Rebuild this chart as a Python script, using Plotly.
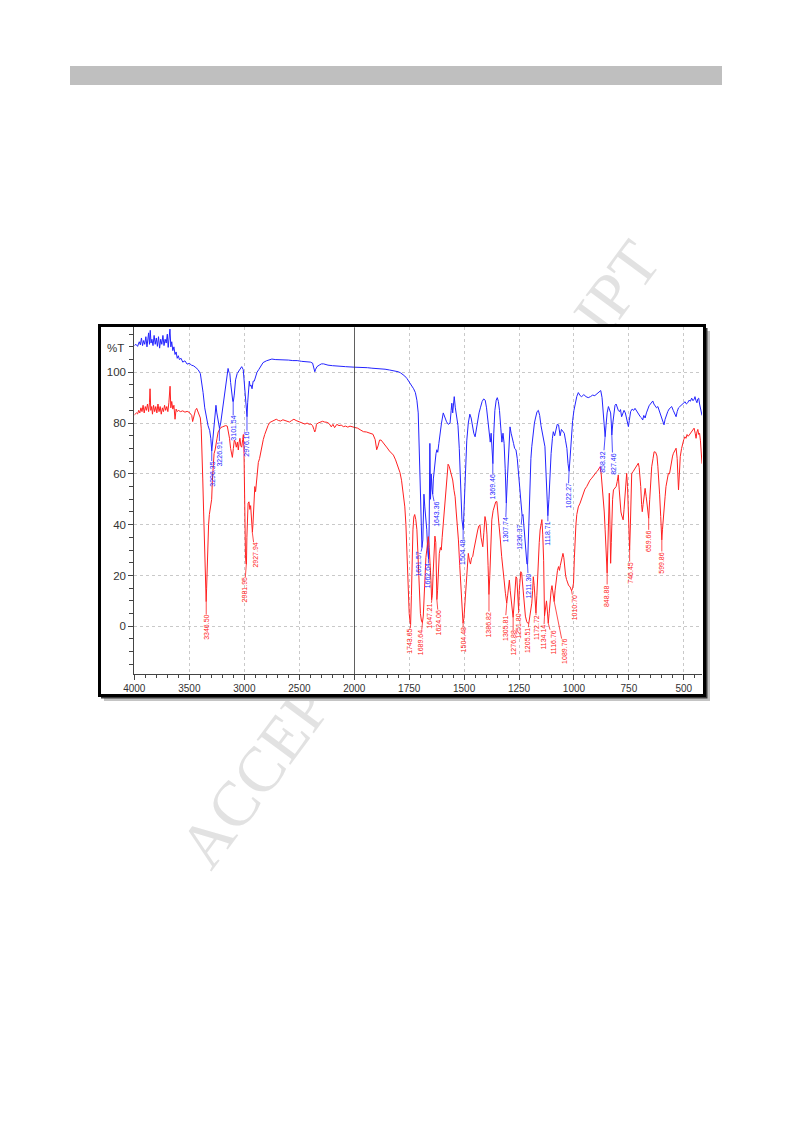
import plotly.graph_objects as go

W, H = 793, 1123

# ---------------- data ----------------
blue_wn = [4000, 3985, 3970, 3955, 3945, 3935, 3925, 3915, 3905, 3895, 3885, 3870, 3862, 3855, 3848, 3840,
           3830, 3820, 3810, 3800, 3790, 3780, 3770, 3760, 3750, 3740, 3730, 3720, 3710, 3700, 3692, 3685,
           3676, 3668, 3660, 3650, 3640, 3630, 3620, 3610, 3600, 3590, 3575, 3560, 3540, 3520, 3500, 3480,
           3460, 3440, 3420, 3400, 3390, 3375, 3360, 3345, 3330, 3315, 3305, 3296, 3285, 3275, 3265, 3258,
           3250, 3240, 3230, 3226, 3215, 3200, 3185, 3170, 3155, 3148, 3140, 3132, 3125, 3115, 3105, 3100,
           3092, 3080, 3065, 3050, 3035, 3024, 3010, 3000, 2990, 2982, 2976, 2970, 2962, 2955, 2948, 2940,
           2930, 2920, 2910, 2900, 2885, 2870, 2850, 2830, 2800, 2780, 2750, 2720, 2680, 2640, 2600, 2560,
           2520, 2480, 2440, 2400, 2380, 2368, 2360, 2352, 2340, 2320, 2300, 2280, 2260, 2240, 2200, 2160,
           2120, 2080, 2040, 2000,
           1980, 1960, 1940, 1920, 1900, 1880, 1860, 1840, 1820, 1800, 1790, 1780, 1770, 1760, 1750, 1740,
           1730, 1722, 1715, 1709, 1704, 1700, 1696, 1692, 1688, 1685, 1683, 1679, 1674, 1670, 1666, 1662,
           1659, 1656, 1653, 1650, 1646, 1643, 1640, 1636, 1632, 1628, 1624, 1620, 1615, 1610, 1603, 1595,
           1588, 1580, 1572, 1564, 1559, 1556, 1552, 1548, 1545, 1540, 1534, 1528, 1522, 1516, 1510, 1504,
           1499, 1494, 1488, 1481, 1474, 1468, 1462, 1456, 1450, 1444, 1438, 1432, 1426, 1418, 1411, 1404,
           1398, 1392, 1386, 1381, 1377, 1373, 1369, 1365, 1360, 1354, 1349, 1344, 1339, 1333, 1328, 1323,
           1318, 1313, 1308, 1303, 1299, 1295, 1291, 1286, 1280, 1275, 1270, 1264, 1258, 1253, 1248, 1244,
           1240, 1236, 1232, 1228, 1223, 1218, 1214, 1211, 1208, 1204, 1200, 1196, 1192, 1186, 1180, 1175,
           1168, 1162, 1156, 1150, 1144, 1138, 1132, 1127, 1122, 1118.7, 1114, 1109, 1104, 1098, 1094, 1088,
           1082, 1076, 1070, 1063, 1057, 1050, 1044, 1038, 1032, 1027, 1022, 1017, 1012, 1006, 1000, 994,
           987, 980, 972, 965, 955, 945, 935, 925, 915, 905, 895, 885, 878, 872, 866, 861,
           858, 854, 849, 843, 838, 833, 830, 827.5, 823, 818, 813, 808, 803, 798, 793, 788,
           783, 778, 772, 766, 760, 755, 752, 748, 742, 735, 728, 722, 716, 710, 704, 698,
           692, 687, 682, 676, 670, 664, 658, 652, 646, 641, 636, 630, 624, 618, 612, 606,
           600, 595, 590, 585, 579, 573, 567, 561, 555, 548, 542, 537, 535, 530, 524, 518,
           512, 506, 500, 494, 488, 482, 476, 470, 464, 458, 452, 449, 445, 440, 436, 432,
           428, 424, 420, 417]
blue_T = [110.5, 111, 110.2, 112, 110.8, 113.5, 110.5, 112.5, 111, 114, 110, 115.5, 111, 116.5, 111.5, 113,
          110.5, 114.5, 111, 113.5, 110.2, 114, 109.5, 113, 111, 114.5, 110.5, 113, 111.5, 115, 109.8, 113.5,
          117, 110, 112, 108.5, 110, 107, 108, 105.5, 106.5, 105, 105.5, 104, 104.5, 103.2, 103.5, 102.8,
          102.5, 101.8, 101, 99.5, 97, 92, 86, 82, 79, 77, 74, 69, 74, 79, 86, 87,
          84, 82, 79, 78, 80, 85, 91, 96, 100.5, 101.5, 100, 99.5, 96, 91, 88.5, 88.5,
          91, 97, 99.5, 100.5, 101.5, 102.2, 101, 96, 90, 84, 82.5, 88, 95.5, 96.5, 94.5, 95,
          93.5, 96.5, 96.5, 98, 100, 101, 102.5, 103.8, 104.5, 104.8, 105.2, 105, 105, 104.8, 104.8, 104.6,
          104.6, 104.3, 104.2, 104, 103.6, 101.5, 100.2, 101.2, 102.2, 102.8, 103.3, 103.3, 103, 102.8, 102.6, 102.4,
          102.3, 102.2, 102.1, 102,
          102, 101.8, 101.8, 101.6, 101.5, 101.3, 101.2, 100.9, 100.6, 100.2, 99.8, 99.2, 98.5, 97.5, 96.2, 95,
          93.5, 92, 89, 84, 70, 57, 40, 31, 34, 45, 52, 47, 42, 38, 30, 26.5,
          40, 72, 50, 60, 54, 52, 58, 62, 65, 68, 69.5, 68.5, 72, 76, 80, 84,
          82, 80.5, 79.5, 80, 85, 87.8, 84, 88, 90.4, 86, 82.5, 79, 70, 55, 42, 38,
          50, 62, 73, 80, 83.5, 82, 78, 76, 74.6, 78, 82.5, 84, 86, 88.5, 89.5, 89,
          86, 82, 76, 72.5, 76, 70, 64, 76, 85, 89, 90, 88.5, 85, 78, 72.5, 76,
          72, 62, 48.5, 58, 67, 74, 78.5, 76, 73, 72, 70, 69.5, 66, 61.5, 57, 52,
          47, 43.5, 44, 40, 33, 27, 24.5, 24.5, 35, 48, 58, 66, 70.7, 76, 80, 82,
          84.5, 85, 83, 79, 76, 73, 70.7, 60, 46, 43.5, 50, 60, 68, 74, 76.6, 75,
          78, 79.5, 79.3, 75, 77.5, 76.5, 76, 73, 70, 64, 61, 67, 75, 81, 85, 88,
          90.5, 92, 90.8, 90.4, 91.2, 90.4, 90, 90.4, 91, 90.8, 91.5, 92.5, 92.8, 90, 84, 77,
          74.6, 79, 84, 86.5, 85.5, 84, 80, 75.3, 80, 85, 87, 87.5, 86, 85, 84.5, 85.3,
          82.5, 83.5, 85, 84, 81, 79.5, 78.6, 81, 84.5, 85.5, 85, 85.8, 85, 84, 83, 82.5,
          82, 81.2, 83, 82, 84, 85.8, 86.8, 87.5, 88, 88.7, 87.5, 86.5, 86, 86.5, 85, 83.5,
          82, 81, 79.3, 81.5, 83.5, 84.5, 85.5, 86.2, 86.5, 85, 84, 83, 82.5, 84.5, 86, 86.5,
          87, 87.5, 88, 88.4, 87.5, 88, 89, 88.6, 89.8, 88.8, 89.5, 90.4, 89, 88, 89.5, 89.8,
          87.5, 86, 84, 83]

red_wn = [4000, 3990, 3980, 3970, 3960, 3950, 3940, 3930, 3920, 3910, 3900, 3890, 3880, 3870, 3862, 3857,
          3850, 3842, 3835, 3825, 3815, 3805, 3795, 3785, 3775, 3765, 3755, 3745, 3735, 3725, 3715, 3705,
          3695, 3686, 3680, 3675, 3668, 3660, 3650, 3640, 3630, 3620, 3610, 3600, 3580, 3560, 3540, 3520,
          3500, 3490, 3478, 3470, 3460, 3445, 3433, 3420, 3410, 3400, 3392, 3385, 3378, 3370, 3362, 3356,
          3350, 3347, 3343, 3338, 3332, 3325, 3318, 3310, 3303, 3297, 3290, 3282, 3275, 3266, 3258, 3248,
          3238, 3230, 3215, 3200, 3185, 3170, 3155, 3145, 3135, 3125, 3115, 3109, 3100, 3091, 3082, 3073,
          3063, 3055, 3047, 3040, 3032, 3024, 3015, 3009, 3003, 3000, 2995, 2990, 2985, 2981, 2977, 2972,
          2966, 2958, 2950, 2943, 2936, 2931, 2927, 2922, 2916, 2910, 2905, 2898, 2890, 2882, 2873, 2862,
          2850, 2840, 2828, 2815, 2800, 2785, 2770, 2750, 2730, 2710, 2690, 2670, 2650, 2630, 2610, 2590,
          2570, 2550, 2530, 2510, 2490, 2470, 2450, 2430, 2410, 2395, 2380, 2368, 2360, 2352, 2345, 2330,
          2310, 2290, 2270, 2250, 2230, 2210, 2195, 2180, 2160, 2140, 2120, 2100, 2080, 2060, 2040, 2020,
          2000,
          1985, 1970, 1958, 1945, 1930, 1915, 1905, 1898, 1892, 1885, 1878, 1870, 1860, 1850, 1840, 1830,
          1822, 1812, 1800, 1792, 1785, 1778, 1770, 1765, 1760, 1755, 1750, 1746, 1743.6, 1740, 1737, 1733,
          1729, 1725, 1720, 1715, 1711, 1707, 1703, 1699, 1694, 1690, 1686, 1682, 1678, 1674, 1670, 1666,
          1663, 1659, 1655, 1651, 1648, 1645, 1641, 1637, 1633, 1629, 1626, 1624, 1621, 1617, 1613, 1608,
          1604, 1600, 1595, 1590, 1584, 1578, 1573, 1568, 1562, 1557, 1552, 1546, 1541, 1536, 1531, 1526,
          1520, 1514, 1509, 1505, 1501, 1496, 1491, 1486, 1481, 1476, 1471, 1466, 1461, 1456, 1450, 1443,
          1438, 1433, 1428, 1423, 1419, 1415, 1410, 1405, 1400, 1396, 1391, 1387, 1383, 1379, 1374, 1368,
          1362, 1356, 1351, 1346, 1340, 1335, 1329, 1324, 1318, 1312, 1306, 1302, 1298, 1294, 1290, 1286,
          1282, 1277, 1273, 1268, 1264, 1260, 1256, 1252, 1249, 1246, 1242, 1238, 1233, 1227, 1221, 1215,
          1210, 1205.5, 1200, 1196, 1192, 1188, 1185, 1181, 1177, 1173, 1169, 1165, 1162, 1158, 1154, 1149,
          1146, 1142, 1138, 1134, 1130, 1125, 1121, 1117, 1113, 1109, 1104, 1100, 1096, 1092, 1090, 1086,
          1080, 1075, 1070, 1066, 1062, 1058, 1054, 1050, 1046, 1042, 1038, 1034, 1030, 1024, 1018, 1013,
          1010.7, 1006, 1002, 998, 995, 991, 987, 980, 972, 965, 957, 950, 942, 935, 927, 919,
          910, 903, 896, 890, 885, 881, 876, 871, 866, 862, 858, 854, 851, 849, 846, 843,
          839, 836, 833, 830, 828, 824, 820, 814, 808, 803, 798, 794, 790, 786, 783, 779,
          776, 772, 767, 763, 760, 756, 752, 749, 746.5, 743, 740, 737, 730, 722, 715, 707,
          703, 700, 696, 692, 689, 685, 680, 676, 671, 666, 662, 659.7, 655, 650, 646, 640,
          635, 628, 622, 618, 614, 610, 605, 602, 600, 597, 593, 590, 585, 581, 576, 570,
          565, 560, 555, 551, 547, 541, 535, 530, 527, 524, 520, 516, 510, 504, 500, 495,
          490, 485, 480, 475, 470, 465, 459, 453, 448, 444, 440, 436, 432, 428, 424, 420,
          417]
red_T = [83.2, 83.5, 84, 83.6, 85, 84, 86, 84.5, 87, 84, 86.5, 85, 87.5, 84.5, 88, 93.5,
         85, 86.5, 83.5, 87, 84.5, 86.5, 84, 87.5, 84.5, 86.5, 83.5, 86, 84.5, 87, 85, 86.5,
         84.5, 88, 91, 94.5, 86, 88.5, 85.5, 87, 81.5, 85.5, 84.5, 85, 84.5, 84.8, 84.3, 84.6,
         84.2, 83.5, 83, 80.6, 83, 85, 85.8, 84, 82.5, 82, 78, 70, 58, 45, 35, 26,
         15, 9.7, 15, 23, 33, 40, 44, 46, 48.4, 50, 58, 65.5, 68, 69.4, 71, 74,
         76.5, 77.3, 78.2, 78.5, 78.8, 79, 78.8, 77, 74, 70, 67, 66.5, 70, 73.3, 72.5, 70.5,
         72.5, 69.4, 72.5, 74, 71, 70.5, 73.5, 75.5, 68, 55, 35, 28, 24.5, 24.5, 35, 44,
         48.5, 49, 46, 47.5, 43.5, 40, 37, 40, 44, 50, 55, 53, 58, 62, 64.5, 66,
         69, 71.5, 73.5, 75.5, 77.5, 79, 80.2, 80.6, 81.2, 81.5, 81, 80.8, 81.3, 81, 80.6, 80.4,
         81, 81.5, 81, 80.7, 80.2, 79.8, 79.6, 80, 79.5, 79.6, 79, 77.5, 76.5, 77.5, 79.5, 80,
         80.3, 80.7, 80.4, 80.3, 79.8, 78.5, 79.5, 78.2, 79.5, 79, 79.2, 78.6, 78.8, 78.4, 78.8, 78.5,
         78.3,
         78, 77.2, 76.6, 76.5, 76, 75.6, 73.5, 69.5, 71, 73.3, 73.3, 72.5, 71.5, 70.2, 69, 68,
         67.4, 65.5, 62.8, 60.5, 57.5, 53, 47, 40, 27, 14, 5, 1.5, 0.8, 12, 25, 38,
         43, 44, 42, 38, 30, 20, 11, 5, 2, 1.4, 4, 12, 21, 27, 30, 34,
         35.3, 31, 26, 18, 10.4, 12, 21, 30, 35.5, 33, 22, 10.5, 14, 24, 28.7, 31,
         30, 35, 40.6, 46, 55, 62, 63.8, 63, 61, 60, 57.6, 53.5, 51, 45, 40, 34,
         24, 14.3, 6, 1.2, 3, 9, 18.2, 25, 28.7, 26, 24.5, 27, 27.4, 30, 33, 36,
         37.9, 39.5, 39.9, 35, 32, 31.3, 37, 43.2, 41, 36, 24, 12.5, 20, 32, 41.9, 45.5,
         47.1, 49, 49.1, 45, 40.6, 34, 27.4, 22, 18.2, 13, 9.1, 12, 16, 18.2, 14, 10,
         6, 3.5, 8, 15, 19.5, 19, 14, 6.4, 14, 20, 21.5, 20.9, 15, 9.1, 4, 1.8,
         1.2, 1.2, 4, 7, 9.1, 14, 19.5, 16, 11.7, 5.2, 12, 22, 27.4, 33, 37.9, 41,
         42, 36, 26, 4, 8, 10, 6, 1.2, 5, 10, 14, 16, 14, 11, 9.7, 14,
         19, 22, 23.5, 22, 24, 26, 27.5, 28.7, 27, 22, 20, 18.5, 17, 16, 15.6, 14.5,
         14, 15, 17, 27, 34, 40, 44, 47, 48.5, 50.5, 52.4, 54, 55, 56.5, 57.5, 58.3,
         59.5, 60.3, 60.9, 61.5, 62.3, 62.8, 60, 55, 51, 45, 38, 31, 25, 21, 30, 42,
         52.4, 40, 24.8, 33, 43.2, 50, 53.7, 54.5, 55, 57, 59.6, 54, 48.4, 45, 43.8, 42.5,
         41.9, 46, 52.4, 57, 60.2, 55, 45, 35, 30, 40, 52, 60.2, 61, 62.2, 63, 64.2,
         62.5, 60.2, 55, 48, 45.1, 48, 52, 54.3, 51, 47.1, 44.5, 42.5, 50, 58, 62.8, 66,
         68.7, 68.5, 67, 63, 58.9, 52, 43.2, 38, 34, 38, 44, 47.1, 51, 55, 58, 60.2,
         60, 63, 65, 67, 68.1, 69, 70.1, 66, 58, 53.7, 60, 66.8, 70, 72.7, 73.5, 74.6,
         74, 75.5, 74.8, 75.3, 76, 76.5, 77.5, 78, 76, 74, 76.5, 77.5, 75.5, 76, 73, 68,
         64]

blue_peak_wn = [3296.35, 3226.91, 3101.54, 2976.16, 1691.57, 1662.64, 1643.36, 1504.48,
                1369.46, 1307.74, 1236.37, 1211.30, 1118.71, 1022.27, 858.32, 827.46]
blue_peak_T = [69, 78, 88.5, 82.5, 31, 26.5, 52, 38, 64, 48.5, 43.5, 24.5, 43.5, 61, 74.6, 75.3]

red_peak_wn = [3346.50, 2981.95, 2927.94, 1743.65, 1689.64, 1647.21, 1624.06, 1504.48,
               1386.82, 1305.81, 1276.88, 1251.80, 1205.51, 1172.72, 1134.14, 1116.76,
               1089.76, 1010.70, 848.88, 746.45, 659.66, 599.86]
red_peak_T = [9.7, 24.5, 37, 0.8, 1.4, 10.4, 10.5, 1.2, 12.5, 9.1, 3.5, 6.4, 1.2, 5.2, 4,
              1.2, 9.7, 14, 21, 30, 42.5, 34]

y_title = "%T"
watermark = "ACCEPTED MANUSCRIPT"

# ---------------- styling / layout ----------------
BLUE = "#2424ff"
RED = "#ff2020"
TXT = "#333333"
GRID = "#c9c9c9"


def px(x):
    return x / W


def py(y):
    return 1 - y / H


X_L, X_MID, X_R = 134.3, 354.3, 702.0
Y_TOP, Y_BOT = 327.3, 674.3

fig = go.Figure()


def split(wn, t, left):
    pts = [(a, b) for a, b in zip(wn, t) if (a >= 2000 if left else a <= 2000)]
    return [p[0] for p in pts], [p[1] for p in pts]


for wn, t, col in [(blue_wn, blue_T, BLUE), (red_wn, red_T, RED)]:
    xl, yl = split(wn, t, True)
    xr, yr = split(wn, t, False)
    fig.add_trace(go.Scatter(x=xl, y=yl, xaxis="x", yaxis="y", mode="lines",
                             line=dict(color=col, width=1), showlegend=False, hoverinfo="skip"))
    fig.add_trace(go.Scatter(x=xr, y=yr, xaxis="x2", yaxis="y", mode="lines",
                             line=dict(color=col, width=1), showlegend=False, hoverinfo="skip"))

# label offsets (pixels): (dx, dy)
nudge = {
    "1691.57": (-4, 17), "1662.64": (0, 17), "1643.36": (4, 20), "1118.71": (0, 18),
    "1743.65": (-1, 17), "1689.64": (-2, 20), "1647.21": (-2, 16), "1624.06": (2, 23),
    "1504.48r": (0, 17), "1386.82": (0, 30), "1305.81": (-2, 25), "1276.88": (0, 26),
    "1251.80": (-1, 16), "1205.51": (-2, 17), "1172.72": (0, 15), "1134.14": (-1, 21),
    "1116.76": (5, 19), "1089.76": (10, 50), "1010.70": (3, 17), "2981.95": (-2, 26),
    "2927.94": (3, 23), "3346.50": (0, 26), "3226.91": (0, 26), "3101.54": (0, 27),
    "2976.16": (0, 27), "827.46": (1, 29), "858.32": (-2, 25), "1307.74": (-1, 27),
    "1236.37": (-2, 22), "1211.30": (1, 22), "1022.27": (-1, 25),
}

annotations = []
for wns, Ts, col, tag in [(blue_peak_wn, blue_peak_T, BLUE, ""), (red_peak_wn, red_peak_T, RED, "r")]:
    for wn, T in zip(wns, Ts):
        lab = f"{wn:.2f}"
        dx, dy = nudge.get(lab + tag, nudge.get(lab, (0, 23)))
        annotations.append(dict(
            x=wn, y=T, xref="x" if wn >= 2000 else "x2", yref="y", text=lab,
            textangle=-90, showarrow=True, arrowhead=0, arrowwidth=0.8,
            arrowcolor=col, ax=dx, ay=dy, standoff=0, borderpad=0,
            font=dict(size=7, color=col, family="Liberation Sans, Arial, sans-serif")))

annotations.append(dict(x=px(115), y=py(348), xref="paper", yref="paper", text=y_title,
                        xanchor="center", yanchor="middle",
                        showarrow=False, font=dict(size=11.5, color=TXT,
                                                   family="Liberation Sans, Arial, sans-serif")))

shapes = [
    # grey header bar
    dict(type="rect", xref="paper", yref="paper", x0=px(70), x1=px(722), y0=py(66), y1=py(85),
         fillcolor="#bfbfbf", line=dict(width=0), layer="below"),
    # watermark (behind the chart)
    dict(type="rect", xref="paper", yref="paper", x0=px(404), x1=px(424), y0=py(540), y1=py(560),
         line=dict(width=0), fillcolor="rgba(0,0,0,0)", layer="below",
         label=dict(text=watermark, textposition="middle center", textangle=-53.5,
                    font=dict(size=64, color="#e2e2e2", family="Liberation Serif, Times New Roman, serif"))),
    # frame shadow
    dict(type="rect", xref="paper", yref="paper", x0=px(104), x1=px(710), y0=py(331), y1=py(701),
         fillcolor="#c4c4c4", line=dict(width=0), layer="below"),
    dict(type="rect", xref="paper", yref="paper", x0=px(101), x1=px(707.5), y0=py(328), y1=py(698.5),
         fillcolor="#3a3a3a", line=dict(width=0), layer="below"),
    # white chart panel with black frame
    dict(type="rect", xref="paper", yref="paper", x0=px(99.5), x1=px(704.5), y0=py(325.5), y1=py(695.5),
         fillcolor="white", line=dict(color="black", width=3), layer="below"),
    # scale-change divider at 2000
    dict(type="line", xref="x2", yref="y domain", x0=2000, x1=2000, y0=0, y1=1,
         line=dict(color="#111111", width=1.3), layer="above"),
]

tickfont_x = dict(size=10, color=TXT, family="Liberation Sans, Arial, sans-serif")
tickfont_y = dict(size=11.5, color=TXT, family="Liberation Sans, Arial, sans-serif")

common_x = dict(anchor="y", showline=True, linecolor="#444444", linewidth=1, ticks="outside",
                ticklen=5, tickcolor="#444444", tickwidth=1, tickfont=tickfont_x,
                showgrid=True, gridcolor=GRID, griddash="dot", gridwidth=1, zeroline=False,
                tick0=0, fixedrange=True, automargin=False)

fig.update_layout(
    width=W, height=H, autosize=False,
    margin=dict(l=0, r=0, t=0, b=0, pad=0),
    paper_bgcolor="white", plot_bgcolor="rgba(0,0,0,0)",
    showlegend=False,
    xaxis=dict(domain=[px(X_L), px(X_MID)], range=[4000, 2001], dtick=500,
               minor=dict(dtick=100, tick0=0, ticks="outside", ticklen=3, tickcolor="#444444", showgrid=False),
               **common_x),
    xaxis2=dict(domain=[px(X_MID), px(X_R)], range=[2000, 417], dtick=250,
                minor=dict(dtick=50, tick0=0, ticks="outside", ticklen=3, tickcolor="#444444", showgrid=False),
                **common_x),
    yaxis=dict(domain=[py(Y_BOT), py(Y_TOP)], range=[-18.9, 117.7], anchor="x",
               tick0=0, dtick=20, showline=True, linecolor="#444444", linewidth=1,
               ticks="outside", ticklen=5, tickcolor="#444444", tickfont=tickfont_y,
               minor=dict(dtick=5, tick0=0, ticks="outside", ticklen=4, tickcolor="#444444", showgrid=False),
               showgrid=True, gridcolor=GRID, griddash="dot", gridwidth=1, zeroline=False,
               fixedrange=True, automargin=False),
    shapes=shapes,
    annotations=annotations,
)

fig.write_html("out.html", config={"displayModeBar": False, "staticPlot": True},
               post_script="document.body.style.margin='0';document.body.style.overflow='hidden';")
